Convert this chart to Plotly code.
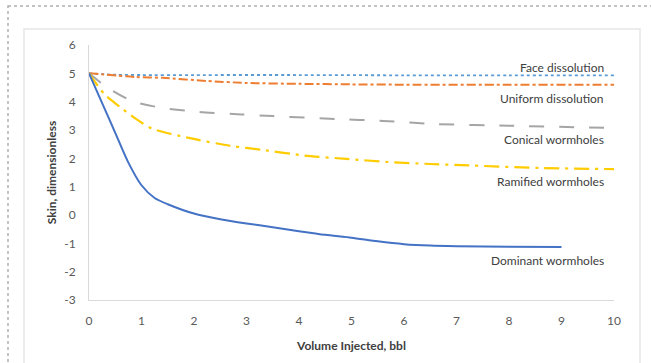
import plotly.graph_objects as go

# ---- data ----
x_dom = [0, 0.25, 0.5, 0.75, 1.0, 1.25, 1.5, 2, 2.5, 3, 3.5, 4, 4.5, 5, 5.5, 6, 6.5, 7, 8, 9]
y_dom = [5, 3.95, 2.9, 1.85, 1.05, 0.6, 0.38, 0.05, -0.15, -0.3, -0.43, -0.57, -0.7, -0.8, -0.93, -1.03, -1.08, -1.1, -1.12, -1.13]

x_ram = [0, 0.3, 0.6, 0.85, 1.2, 1.9, 2.7, 3.3, 4.1, 4.9, 5.7, 6.5, 7.1, 8.6, 10]
y_ram = [5, 4.25, 3.8, 3.45, 3.05, 2.72, 2.44, 2.3, 2.1, 1.98, 1.87, 1.8, 1.76, 1.66, 1.62]

x_con = [0, 0.35, 0.85, 1.4, 2.1, 2.9, 3.5, 4.7, 5.6, 6.6, 8, 10]
y_con = [5, 4.5, 4.0, 3.78, 3.64, 3.55, 3.49, 3.39, 3.32, 3.21, 3.15, 3.07]

x_uni = [0, 0.9, 1.4, 2.25, 3, 4, 5, 6, 8, 10]
y_uni = [5, 4.87, 4.84, 4.73, 4.66, 4.63, 4.61, 4.6, 4.6, 4.6]

x_face = [0, 0.5, 1, 2, 4, 6, 8, 10]
y_face = [5, 4.95, 4.94, 4.94, 4.94, 4.93, 4.93, 4.93]

labels = ["Face dissolution", "Uniform dissolution", "Conical wormholes", "Ramified wormholes", "Dominant wormholes"]
label_y = [5.22, 4.12, 2.65, 1.17, -1.62]

x_ticks = list(range(0, 11))
y_ticks = list(range(-3, 7))
y_tick_text = [str(v) for v in y_ticks]

fig = go.Figure()

series = [
    (x_face, y_face, "#5B9BD5", "dot", 1.8),
    (x_uni, y_uni, "#ED7D31", "dashdot", 2),
    (x_con, y_con, "#A5A5A5", "longdash", 2),
    (x_ram, y_ram, "#FFCC00", "longdashdot", 2.2),
    (x_dom, y_dom, "#4472C4", "solid", 2),
]
for (xs, ys, c, d, w), name in zip(series, labels):
    fig.add_trace(go.Scatter(x=xs, y=ys, mode="lines", name=name,
                             line=dict(color=c, dash=d, width=w, shape="spline", smoothing=0.7),
                             showlegend=False))

for t, yy in zip(labels, label_y):
    fig.add_annotation(x=10, y=yy, xref="x", yref="y", text=t, showarrow=False,
                       xanchor="right", yanchor="middle", xshift=-8,
                       font=dict(family="Lato", size=12, color="#404040"))

# outer dotted border and inner chart frame (paper coords)
L, R, T, B = 89, 614, 45, 300
def px(v): return (v - L) / (R - L)
def py(v): return (B - v) / (B - T)

fig.add_shape(type="rect", xref="paper", yref="paper",
              x0=px(8), x1=px(670), y0=py(6), y1=py(380),
              line=dict(color="#b0b0b0", width=1.5, dash="dot"), layer="below")
fig.add_shape(type="rect", xref="paper", yref="paper",
              x0=px(24), x1=px(640), y0=py(29), y1=py(380),
              line=dict(color="#e6e6e6", width=1.5), layer="below")

axis_font = dict(family="Lato", size=12, color="#595959")
fig.update_xaxes(range=[0, 10], tickvals=x_ticks, showgrid=False, zeroline=False,
                 showline=True, linecolor="#d9d9d9", linewidth=1, ticks="",
                 tickfont=axis_font, ticklabelstandoff=10,
                 title=dict(text="<b>Volume Injected, bbl</b>", font=dict(family="Lato", size=12, color="#404040"), standoff=14))
fig.update_yaxes(range=[-3, 6], tickvals=y_ticks, ticktext=y_tick_text, showgrid=False, zeroline=False,
                 showline=True, linecolor="#d9d9d9", linewidth=1, ticks="",
                 tickfont=axis_font, ticklabelstandoff=10,
                 title=dict(text="<b>Skin, dimensionless</b>", font=dict(family="Lato", size=12, color="#404040"), standoff=4))

fig.update_layout(width=651, height=363, margin=dict(l=L, r=651 - R, t=T, b=363 - B),
                  paper_bgcolor="white", plot_bgcolor="white")

fig.write_html("out.html")
